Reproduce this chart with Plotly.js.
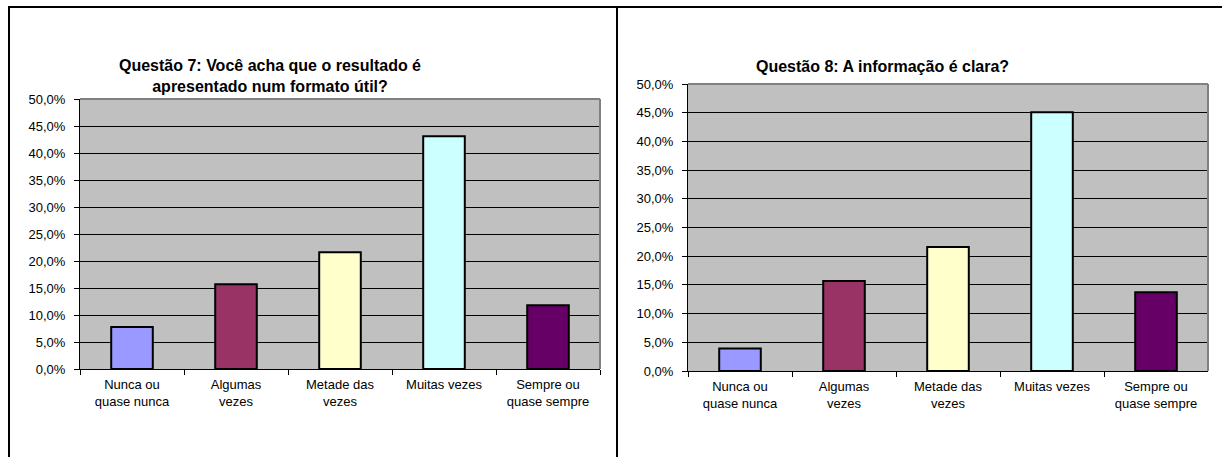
<!DOCTYPE html>
<html>
<head>
<meta charset="utf-8">
<script src="https://cdn.plot.ly/plotly-3.0.1.min.js"></script>
<style>
  html, body { margin: 0; padding: 0; background: #ffffff; }
  #chart { width: 1222px; height: 457px; }
</style>
</head>
<body>
<div id="chart"></div>
<script>
// answer categories (same for both questions)
var categories = ['Nunca ou<br>quase nunca', 'Algumas<br>vezes', 'Metade das<br>vezes', 'Muitas vezes', 'Sempre ou<br>quase sempre'];
// percentages
var q7Values = [7.8, 15.7, 21.6, 43.1, 11.8];
var q8Values = [3.9, 15.7, 21.6, 45.1, 13.7];
var barColours = ['#9999FF', '#993366', '#FFFFCC', '#CCFFFF', '#660066'];
var q7Title = 'Questão 7: Você acha que o resultado é<br>apresentado num formato útil?';
var q8Title = 'Questão 8: A informação é clara?';

const W = 1222, H = 457;
function px(x) { return x / W; }
function py(y) { return 1 - y / H; }

var font = 'Liberation Sans, Arial, sans-serif';

function makeBar(values, xa, ya) {
    return {
        x: categories,
        y: values,
        type: 'bar',
        xaxis: xa,
        yaxis: ya,
        marker: {
            color: barColours,
            line: { color: '#000000', width: 2 }
        },
        hoverinfo: 'none',
        showlegend: false
    };
}

function xAxis(domain, anchor) {
    return {
        domain: domain,
        anchor: anchor,
        type: 'category',
        showline: true,
        linecolor: '#000000',
        linewidth: 1,
        ticks: 'outside',
        tickson: 'boundaries',
        ticklen: 5,
        tickcolor: '#000000',
        ticklabelstandoff: 3,
        showgrid: false,
        tickfont: { family: font, size: 13, color: '#000000' },
        fixedrange: true
    };
}

function yAxis(domain, anchor) {
    return {
        domain: domain,
        anchor: anchor,
        range: [0, 50],
        dtick: 5,
        tickformat: '.1f',
        ticksuffix: '%',
        showline: true,
        linecolor: '#000000',
        linewidth: 1,
        ticks: 'outside',
        ticklen: 5,
        tickcolor: '#000000',
        ticklabelstandoff: 6,
        showgrid: true,
        gridcolor: '#000000',
        gridwidth: 1,
        zeroline: false,
        tickfont: { family: font, size: 13, color: '#000000' },
        fixedrange: true
    };
}

// grey plot-area border on top and right (like the spreadsheet chart)
function borderShapes(xr, yr) {
    return [
        { type: 'line', xref: xr + ' domain', yref: yr + ' domain', x0: 0, x1: 1, y0: 1, y1: 1,
          line: { color: '#808080', width: 2 } },
        { type: 'line', xref: xr + ' domain', yref: yr + ' domain', x0: 1, x1: 1, y0: 0, y1: 1,
          line: { color: '#808080', width: 2 } }
    ];
}

var data = [makeBar(q7Values, 'x', 'y'), makeBar(q8Values, 'x2', 'y2')];

var tableLine = { color: '#000000', width: 2 };
var shapes = [
    { type: 'line', xref: 'paper', yref: 'paper', x0: px(8), x1: 1, y0: py(7), y1: py(7), line: tableLine },
    { type: 'line', xref: 'paper', yref: 'paper', x0: px(9), x1: px(9), y0: py(7), y1: 0, line: tableLine },
    { type: 'line', xref: 'paper', yref: 'paper', x0: px(617), x1: px(617), y0: py(7), y1: 0, line: tableLine }
].concat(borderShapes('x', 'y'), borderShapes('x2', 'y2'));

var layout = {
    width: W,
    height: H,
    margin: { l: 0, r: 0, t: 0, b: 0, pad: 0 },
    paper_bgcolor: '#ffffff',
    plot_bgcolor: '#C0C0C0',
    separators: ',.',
    bargap: 0.6,
    xaxis: xAxis([px(80), px(600)], 'y'),
    yaxis: yAxis([py(369), py(99)], 'x'),
    xaxis2: xAxis([px(688), px(1208)], 'y2'),
    yaxis2: yAxis([py(371), py(84)], 'x2'),
    shapes: shapes,
    annotations: [
        { text: '<b>' + q7Title + '</b>', xref: 'paper', yref: 'paper', x: px(270), y: py(76),
          xanchor: 'center', yanchor: 'middle', showarrow: false,
          font: { family: font, size: 16, color: '#000000' } },
        { text: '<b>' + q8Title + '</b>', xref: 'paper', yref: 'paper', x: px(882), y: py(66),
          xanchor: 'center', yanchor: 'middle', showarrow: false,
          font: { family: font, size: 16, color: '#000000' } }
    ]
};

Plotly.newPlot('chart', data, layout, { displayModeBar: false, staticPlot: true });
</script>
</body>
</html>
